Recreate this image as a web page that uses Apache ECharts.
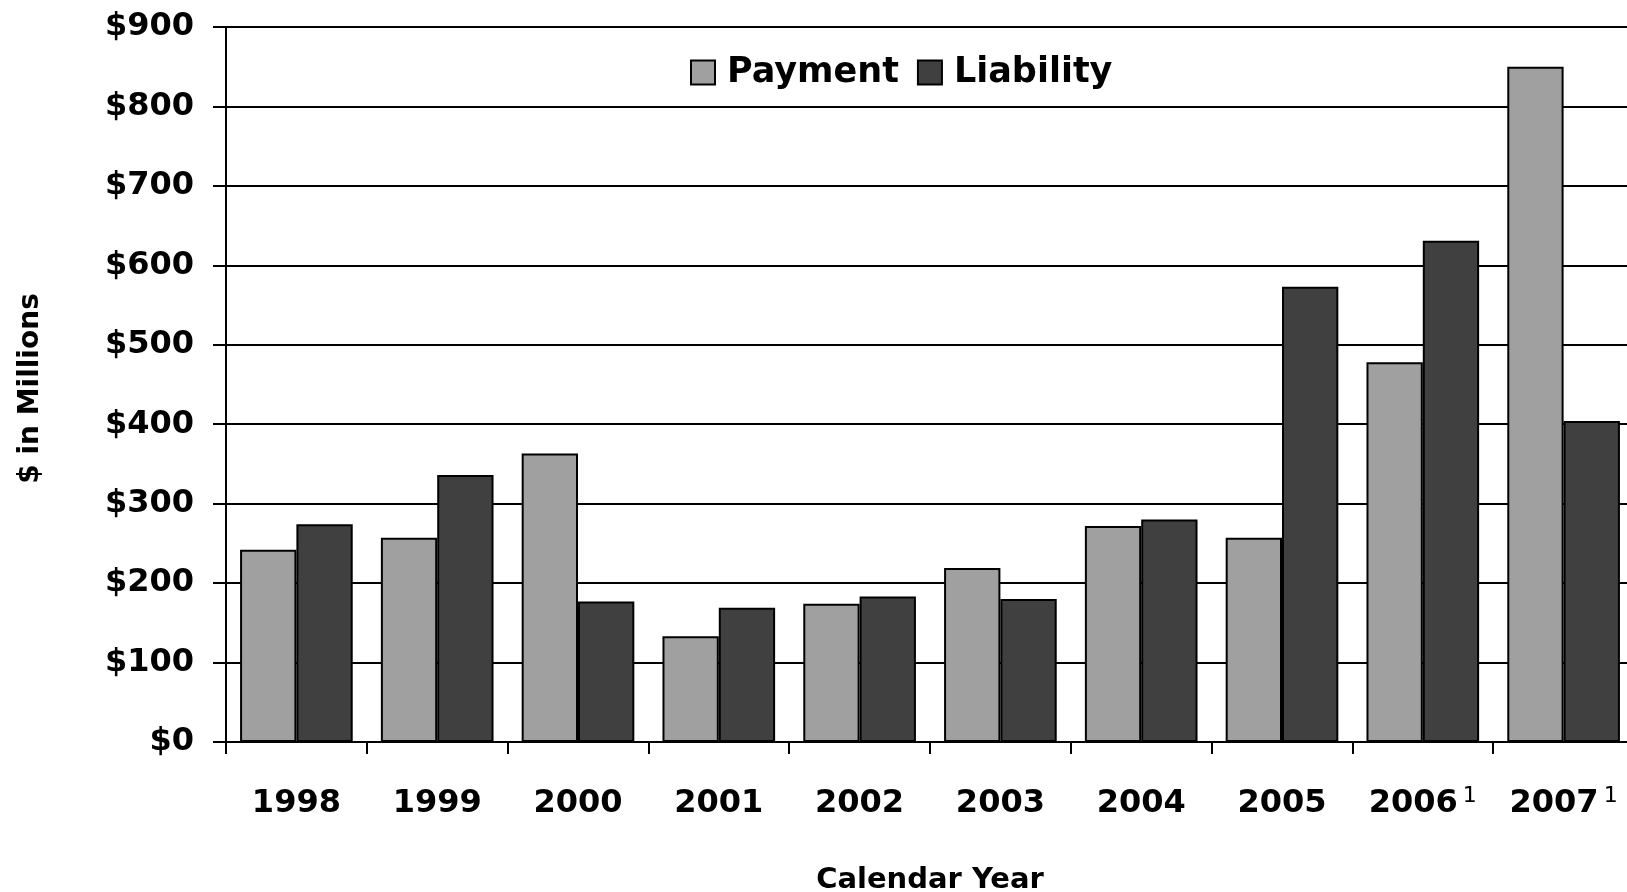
<!DOCTYPE html>
<html>
<head>
<meta charset="utf-8">
<script src="https://cdn.jsdelivr.net/npm/echarts@6/dist/echarts.min.js"></script>
<style>
html,body{margin:0;padding:0;background:#fff;}
#chart{width:1627px;height:892px;}
</style>
</head>
<body>
<div id="chart"></div>
<script>
const categories = ['1998','1999','2000','2001','2002','2003','2004','2005','2006','2007'];
const footnotes  = ['','','','','','','','','1','1'];
const payment    = [242, 257, 363, 133, 174, 219, 272, 257, 478, 850];
const liability  = [274, 336, 177, 169, 183, 180, 280, 573, 631, 404];
const yMin = 0, yMax = 900, yStep = 100;
const seriesNames = ['Payment', 'Liability'];
const xTitle = 'Calendar Year';
const yTitle = '$ in Millions';

const FONT = 'DejaVu Sans';
const chart = echarts.init(document.getElementById('chart'), null, {renderer:'canvas'});
const labelData = categories.map((c,i)=> footnotes[i] ? '{yr|' + c + '}{sup|' + footnotes[i] + '}' : '{yr|' + c + '}');

chart.setOption({
  animation:false,
  backgroundColor:'#fff',
  grid:{left:226, top:27, width:1408, height:715, containLabel:false, outerBoundsMode:'none'},
  legend:{
    left:685, top:50,
    icon:'rect', itemWidth:24, itemHeight:24, itemGap:18,
    textStyle:{fontFamily:FONT, fontWeight:'bold', fontSize:35, color:'#000', padding:[0,0,0,7]},
    data:seriesNames
  },
  xAxis:{
    type:'category', data:labelData,
    axisLine:{lineStyle:{color:'#000', width:2}},
    axisTick:{show:true, length:12, lineStyle:{color:'#000', width:2}, alignWithLabel:false},
    axisLabel:{
      margin:43, fontFamily:FONT, fontWeight:'bold', fontSize:32, color:'#000', interval:0,
      rich:{
        yr:{fontFamily:FONT, fontWeight:'bold', fontSize:32, color:'#000', lineHeight:38},
        sup:{fontFamily:FONT, fontWeight:'normal', fontSize:22, color:'#000', lineHeight:22,
             verticalAlign:'top', padding:[0,0,0,5]}
      }
    },
    name:xTitle, nameLocation:'middle', nameGap:124,
    nameTextStyle:{fontFamily:FONT, fontWeight:'bold', fontSize:29, color:'#000'}
  },
  yAxis:{
    type:'value', min:yMin, max:yMax, interval:yStep,
    axisLine:{show:true, lineStyle:{color:'#000', width:2}},
    axisTick:{show:true, length:13, lineStyle:{color:'#000', width:2}},
    splitLine:{show:true, lineStyle:{color:'#000', width:2}},
    axisLabel:{margin:32, fontFamily:FONT, fontWeight:'bold', fontSize:32, color:'#000',
      formatter:v=>'$'+v},
    name:yTitle, nameLocation:'middle', nameGap:181,
    nameTextStyle:{fontFamily:FONT, fontWeight:'bold', fontSize:28, color:'#000', padding:[0,8,0,0]}
  },
  series:[
    {name:seriesNames[0], type:'bar', data:payment, barGap:'0%', barCategoryGap:'20%',
     itemStyle:{color:'#a0a0a0', borderColor:'#000', borderWidth:2}},
    {name:seriesNames[1], type:'bar', data:liability, barGap:'0%', barCategoryGap:'20%',
     itemStyle:{color:'#404040', borderColor:'#000', borderWidth:2}}
  ]
});
</script>
</body>
</html>
